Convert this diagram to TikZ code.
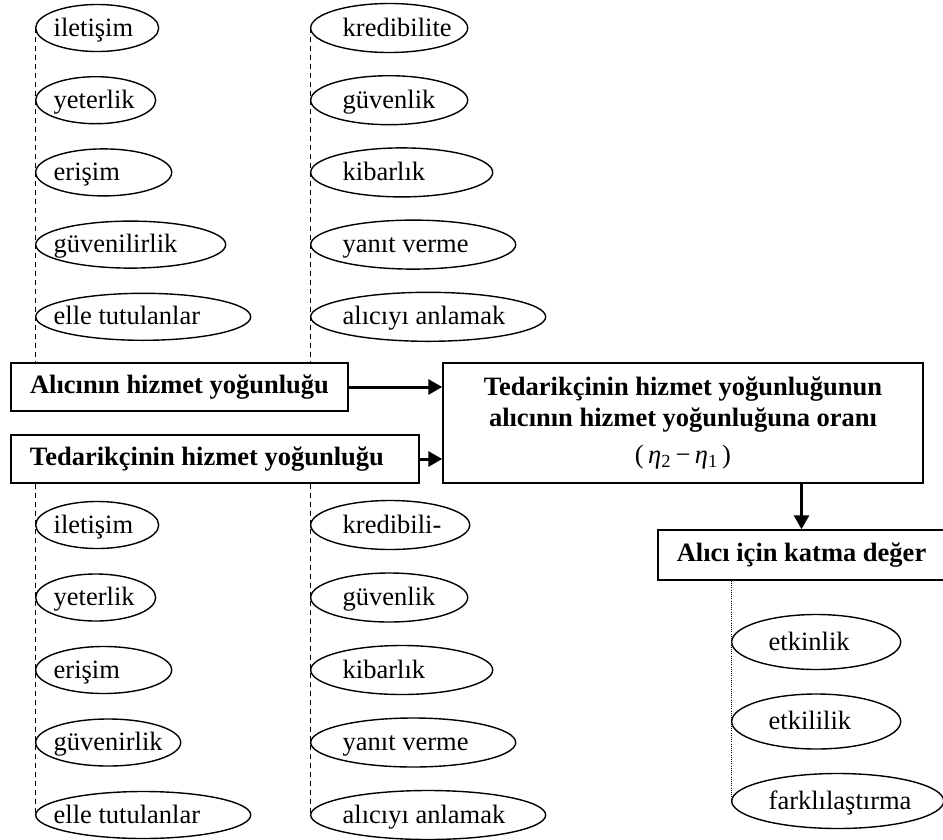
\documentclass[tikz,border=0pt]{standalone}
\usepackage{fontspec}
\setmainfont{Liberation Serif}
\usepackage{tikz}
\usetikzlibrary{arrows.meta,shapes.geometric}
\tikzset{
  oval/.style={draw, ellipse, line width=1.4pt, minimum height=47pt,
    inner ysep=0pt, inner xsep=-20pt, anchor=west, align=flush left,
    text height=21pt, text depth=5pt,
    font=\fontsize{26.5}{31}\selectfont},
  kutu/.style={draw, rectangle, line width=1.5pt, inner xsep=19pt, inner ysep=0pt,
    font=\bfseries\fontsize{26.5}{31}\selectfont},
  ok/.style={-{Triangle[length=14pt,width=15pt]}, line width=3pt},
  kesik/.style={dash pattern=on 5pt off 4pt, line width=0.9pt},
  noktali/.style={dash pattern=on 1pt off 1.2pt, line width=0.9pt}
}

\begin{document}
\begin{tikzpicture}[x=1pt,y=-1pt]
            \useasboundingbox (0,0) rectangle (943,839);

            % Boxes
            \node[kutu, minimum width=337, minimum height=48] (alici) at (179.5,387) {Alıcının hizmet yoğunluğu};
            \node[kutu, minimum width=408, minimum height=48, text width=370pt, align=flush left] (tedarik) at (215,459) {Tedarikçinin hizmet yoğunluğu};
            \node[kutu, minimum width=480, minimum height=120, align=center] (oran) at (683,423)
                {Tedarikçinin hizmet yoğunluğunun\\alıcının hizmet yoğunluğuna oranı\\[6pt]\normalfont(\,\textit{η}\textsubscript{2}\,−\,\textit{η}\textsubscript{1}\,)};
            \node[kutu, minimum width=281, minimum height=50] (deger) at (801.5,555) {Alıcı için katma değer};

            % Arrows between boxes
            \draw[ok] (alici.east) -- (alici.east -| oran.west);
            \draw[ok] (tedarik.east) -- (tedarik.east -| oran.west);
            \draw[ok] (deger.north |- oran.south) -- (deger.north);

            % Upper ellipses (buyer)
            \foreach \t/\w [count=\i, evaluate=\w as \tw using \w-36] in {iletişim/123, yeterlik/120, erişim/136, güvenilirlik/190, elle tutulanlar/215}
                \node[oval, minimum width=\w, text width=\tw pt] (us\i) at (35,{28+72.2*(\i-1)}) {\t};
            \foreach \t/\w [count=\i, evaluate=\w as \tw using \w-64] in {kredibilite/157, güvenlik/157, kibarlık/182, yanıt verme/205, alıcıyı anlamak/235}
                \node[oval, minimum width=\w, minimum height=49, text width=\tw pt] (usr\i) at (310,{28+72.2*(\i-1)}) {\t};

            % Lower ellipses (supplier)
            \foreach \t/\w [count=\i, evaluate=\w as \tw using \w-36] in {iletişim/123, yeterlik/120, erişim/136, güvenirlik/145, elle tutulanlar/215}
                \node[oval, minimum width=\w, text width=\tw pt] (as\i) at (35,{525+72.5*(\i-1)}) {\t};
            \foreach \t/\w [count=\i, evaluate=\w as \tw using \w-64] in {kredibili-/159, güvenlik/157, kibarlık/182, yanıt verme/205, alıcıyı anlamak/235}
                \node[oval, minimum width=\w, minimum height=49, text width=\tw pt] (asr\i) at (310,{525+72.5*(\i-1)}) {\t};

            % Added value ellipses
            \foreach \t/\w [count=\i, evaluate=\w as \tw using \w-74] in {etkinlik/169, etkililik/169, farklılaştırma/212}
                \node[oval, minimum width=\w, minimum height=55, text width=\tw pt] (sn\i) at (731,{642+79.5*(\i-1)}) {\t};

            % Guide lines
            \draw[kesik] (us1.west) -- (us1.west |- alici.north);
            \draw[kesik] (usr1.west) -- (usr1.west |- alici.north);
            \draw[kesik] (tedarik.south -| as1.west) -- (as5.west);
            \draw[kesik] (tedarik.south -| asr1.west) -- (asr5.west);
            \draw[noktali] (deger.south -| sn1.west) -- (sn3.west);
\end{tikzpicture}
\end{document}
